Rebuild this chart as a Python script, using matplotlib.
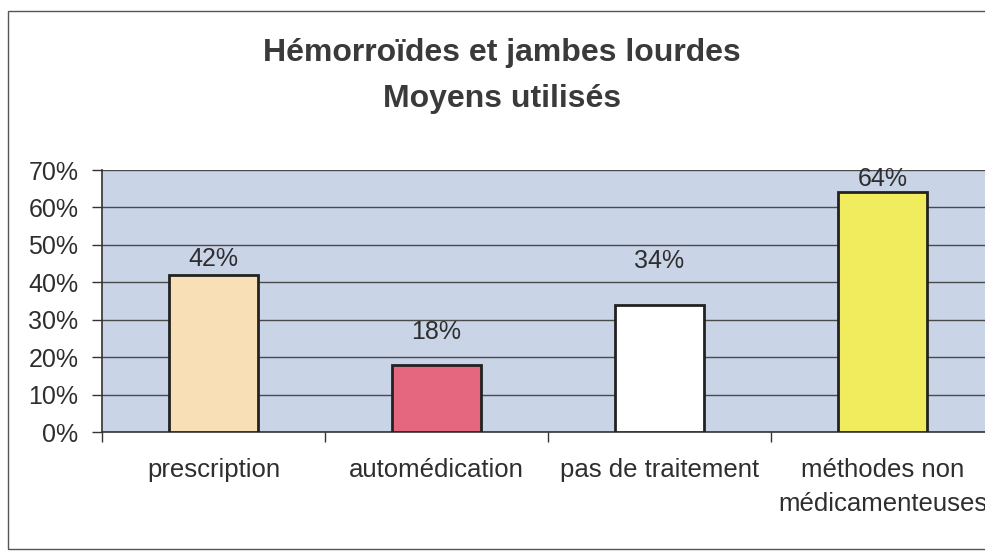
import matplotlib.pyplot as plt
from matplotlib.patches import Rectangle
from matplotlib.ticker import PercentFormatter

categories = ["prescription", "automédication", "pas de traitement", "méthodes non\nmédicamenteuses"]
values = [42, 18, 34, 64]
bar_colors = ["#f9dfb6", "#e5667f", "#ffffff", "#f1ec5e"]
label_offsets = [3, 15, 23, 1]  # points above the bar top, as in the original

plt.rcParams["font.family"] = ["Liberation Sans", "DejaVu Sans"]
text_color = "#2e2e2e"

fig = plt.figure(figsize=(9.85, 5.51), dpi=100)
fig.patches.append(Rectangle((8 / 985, 2 / 551), 1.2, 538 / 551, transform=fig.transFigure,
                             fill=False, edgecolor="#555555", linewidth=1.0))

ax = fig.add_axes([102 / 985, 119 / 551, 892 / 985, 262 / 551])
ax.set_facecolor("#c9d4e7")
x = range(len(values))
bars = ax.bar(x, values, width=0.4, color=bar_colors, edgecolor="#222222", linewidth=2, zorder=3)

for bar, v, off in zip(bars, values, label_offsets):
    ax.annotate(f"{v}%", (bar.get_x() + bar.get_width() / 2, v), xytext=(0, off),
                textcoords="offset points", ha="center", va="bottom", fontsize=18, color=text_color)

ax.set_xlim(-0.5, len(values) - 0.5)
ax.set_ylim(0, 70)
ax.set_yticks(range(0, 71, 10))
ax.yaxis.set_major_formatter(PercentFormatter(decimals=0))
ax.grid(axis="y", color="#4a4a4a", linewidth=1.0, zorder=1)
ax.set_axisbelow(True)

ax.set_xticks([i - 0.5 for i in range(len(values) + 1)])
ax.set_xticklabels([])
ax.set_xticks(list(x), minor=True)
ax.set_xticklabels(categories, minor=True, fontsize=18.5, color=text_color, linespacing=1.5)
ax.tick_params(axis="x", which="minor", length=0, pad=19)
ax.tick_params(axis="x", which="major", length=7, width=1, color="#333333")
ax.tick_params(axis="y", length=7, width=1, color="#333333", labelsize=18, labelcolor=text_color, pad=10)

for side in ["top", "right"]:
    ax.spines[side].set_visible(False)
for side in ["left", "bottom"]:
    ax.spines[side].set_color("#333333")
    ax.spines[side].set_linewidth(1.2)

fig.text(0.51, 1 - 53 / 551, "Hémorroïdes et jambes lourdes", ha="center", va="center",
         fontsize=23, fontweight="bold", color="#3a3a3a")
fig.text(0.51, 1 - 99 / 551, "Moyens utilisés", ha="center", va="center",
         fontsize=23, fontweight="bold", color="#3a3a3a")

fig.savefig("out.png", dpi=100)
